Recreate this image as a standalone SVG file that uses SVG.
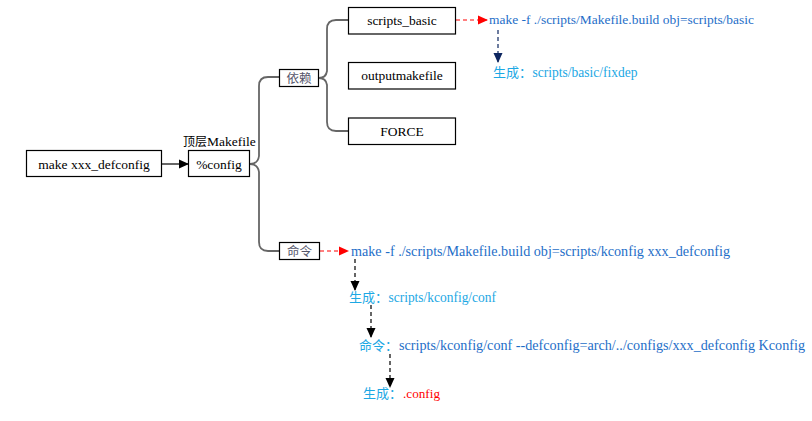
<svg xmlns="http://www.w3.org/2000/svg" width="812" height="421" viewBox="0 0 812 421">
<style>
.box{fill:#fff;stroke:#000;stroke-width:1.2}
.t{font-family:"Liberation Serif","Noto Sans CJK SC",serif;font-size:13.5px;fill:#000}
.cn{font-family:"Noto Sans CJK SC",serif;font-size:13px}
.lbl{font-family:"Noto Sans CJK SC",serif;font-size:12.5px;fill:#55556a}
.blue{fill:#1e6ec8}
.lb{fill:#1ca8e4}
.red{fill:#ff0000}
.brace{fill:none;stroke:#666;stroke-width:1.8}
.dash{fill:none;stroke-width:1.2;stroke-dasharray:4,3}
</style>
<defs>
<marker id="ab" markerWidth="10" markerHeight="10" refX="9" refY="5" orient="auto" markerUnits="userSpaceOnUse"><path d="M0,0.5 L10,5 L0,9.5 Z" fill="#000"/></marker>
<marker id="ar" markerWidth="10" markerHeight="10" refX="9" refY="5" orient="auto" markerUnits="userSpaceOnUse"><path d="M0,0.5 L10,5 L0,9.5 Z" fill="#ff0000"/></marker>
<marker id="an" markerWidth="10" markerHeight="10" refX="9" refY="5" orient="auto" markerUnits="userSpaceOnUse"><path d="M0,0.5 L10,5 L0,9.5 Z" fill="#0d2660"/></marker>
</defs>
<g id="connectors">
<line x1="162" y1="164" x2="188" y2="164" stroke="#000" stroke-width="1.2" marker-end="url(#ab)"/>
<path class="brace" d="M250,164 Q258,164 259,156 L259,86 Q259,77 268,77 L280,77"/>
<path class="brace" d="M250,164 Q258,164 259,172 L259,242 Q259,251 268,251 L280,251"/>
<path class="brace" d="M319,78 Q326,78 327,71 L327,29 Q327,20 336,20 L349,20"/>
<path class="brace" d="M319,78 Q326,78 327,85 L327,122 Q327,131 336,131 L349,131"/>
<line class="dash" x1="456" y1="20" x2="487" y2="20" stroke="#ff0000" marker-end="url(#ar)"/>
<line class="dash" x1="498" y1="30" x2="498" y2="62" stroke="#0d2660" marker-end="url(#an)"/>
<line class="dash" x1="320" y1="251" x2="348" y2="251" stroke="#ff0000" marker-end="url(#ar)"/>
<line class="dash" x1="355" y1="259" x2="355" y2="290" stroke="#000" marker-end="url(#ab)"/>
<line class="dash" x1="371" y1="305" x2="371" y2="337" stroke="#000" marker-end="url(#ab)"/>
<line class="dash" x1="390" y1="354" x2="390" y2="387" stroke="#000" marker-end="url(#ab)"/>
</g>
<g id="make_defconfig">
<rect class="box" x="26.5" y="150.5" width="135" height="26"/>
<text class="t" x="94" y="168.5" text-anchor="middle">make xxx_defconfig</text>
</g>
<g id="config">
<text class="t" x="183" y="146"><tspan class="cn" style="font-size:12px">顶层</tspan>Makefile</text>
<rect class="box" x="188.5" y="150.5" width="61" height="26"/>
<text class="t" x="219" y="168.5" text-anchor="middle">%config</text>
</g>
<g id="yilai">
<rect class="box" x="279.5" y="69.5" width="39" height="17"/>
<text class="lbl" x="299" y="82.5" text-anchor="middle">依赖</text>
</g>
<g id="mingling">
<rect class="box" x="279.5" y="242.5" width="40" height="17"/>
<text class="lbl" x="299.5" y="255.5" text-anchor="middle">命令</text>
</g>
<g id="scripts_basic">
<rect class="box" x="348.5" y="7.5" width="107" height="26.5"/>
<text class="t" x="402" y="25" text-anchor="middle">scripts_basic</text>
</g>
<g id="outputmakefile">
<rect class="box" x="348.5" y="62.5" width="107" height="26.5"/>
<text class="t" x="402" y="80" text-anchor="middle">outputmakefile</text>
</g>
<g id="force">
<rect class="box" x="348.5" y="118" width="107" height="26.5"/>
<text class="t" x="402" y="135.5" text-anchor="middle">FORCE</text>
</g>
<g id="cmd_basic">
<text class="t blue" x="489" y="24" textLength="265" lengthAdjust="spacingAndGlyphs">make -f ./scripts/Makefile.build obj=scripts/basic</text>
</g>
<g id="gen_fixdep">
<text class="t lb" y="77"><tspan class="cn" x="493">生成：</tspan><tspan x="532.5" style="font-size:14.5px" textLength="105" lengthAdjust="spacingAndGlyphs">scripts/basic/fixdep</tspan></text>
</g>
<g id="cmd_kconfig">
<text class="t blue" x="351" y="256" style="font-size:14.2px" textLength="379" lengthAdjust="spacingAndGlyphs">make -f ./scripts/Makefile.build obj=scripts/kconfig xxx_defconfig</text>
</g>
<g id="gen_conf">
<text class="t lb" y="302"><tspan class="cn" x="349">生成：</tspan><tspan x="388.5" style="font-size:14.5px" textLength="107.5" lengthAdjust="spacingAndGlyphs">scripts/kconfig/conf</tspan></text>
</g>
<g id="cmd_conf">
<text class="t blue" y="350"><tspan class="cn lb" x="359">命令：</tspan><tspan x="399" style="font-size:14.2px" textLength="406" lengthAdjust="spacingAndGlyphs">scripts/kconfig/conf --defconfig=arch/../configs/xxx_defconfig Kconfig</tspan></text>
</g>
<g id="gen_config">
<text class="t lb" y="398"><tspan class="cn" x="363">生成：</tspan><tspan class="red" x="403" textLength="37" lengthAdjust="spacingAndGlyphs">.config</tspan></text>
</g>
</svg>
